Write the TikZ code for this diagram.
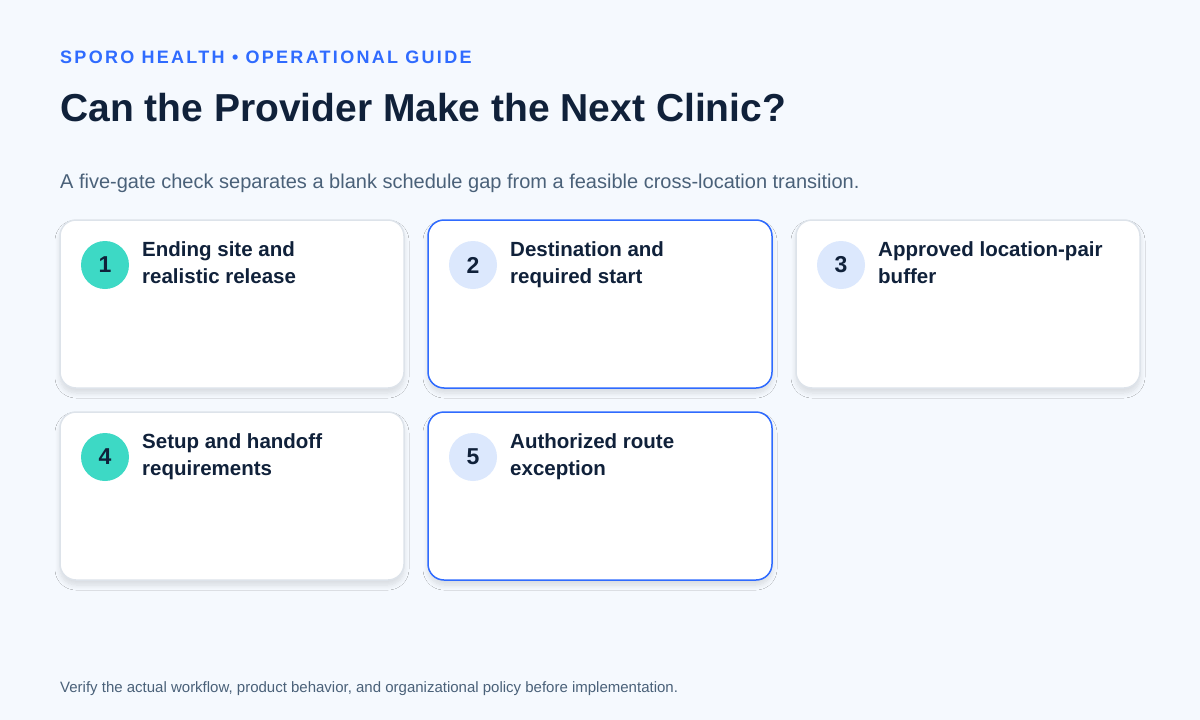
\documentclass[tikz,border=0pt]{standalone}
\usepackage{fontspec}
\setmainfont{Liberation Sans}
\newfontfamily\spaced[LetterSpace=12.7]{Liberation Sans}
\usetikzlibrary{shadows.blur}
\definecolor{bg}{HTML}{F5F9FE}
\definecolor{blue}{HTML}{2F6BFF}
\definecolor{ink}{HTML}{10213A}
\definecolor{muted}{HTML}{4A6179}
\definecolor{graybd}{HTML}{DDE3EA}
\definecolor{teal}{HTML}{3DD9C5}
\definecolor{lblue}{HTML}{DCE8FD}
\begin{document}
\begin{tikzpicture}[x=1pt,y=-1pt,
 card/.style={draw=graybd,line width=1.5pt,fill=white,rounded corners=16pt,blur shadow={shadow blur steps=10,shadow blur radius=5pt,shadow xshift=0pt,shadow yshift=-5pt,shadow opacity=12}},
 bcard/.style={card,draw=blue},
 num/.style={circle,minimum size=48pt,inner sep=0pt,font=\fontsize{23}{26}\selectfont\bfseries,text=ink},
 ttl/.style={anchor=north west,align=left,inner sep=0pt,font=\fontsize{20.5}{27}\selectfont\bfseries,text=ink}]
\fill[bg] (0,0) rectangle (1200,720);
\useasboundingbox (0,0) rectangle (1200,720);
\node[anchor=base west,inner sep=0pt,text=blue,font=\fontsize{18}{20}\selectfont\bfseries\spaced] (hdr) at (60,63) {SPORO HEALTH • OPERATIONAL GUIDE};
\node[anchor=base west,inner sep=0pt,text=ink,font=\fontsize{39}{44}\selectfont\bfseries] (title) at (60,121) {Can the Provider Make the Next Clinic?};
\node[anchor=base west,inner sep=0pt,text=muted,font=\fontsize{20}{24}\selectfont] (sub) at (60,188) {A five-gate check separates a blank schedule gap from a feasible cross-location transition.};
\node[anchor=base west,inner sep=0pt,text=muted,font=\fontsize{15}{18}\selectfont] (foot) at (60,692) {Verify the actual workflow, product behavior, and organizational policy before implementation.};
\foreach \x/\y/\st/\c/\n/\t in {
 60/220/card/teal/1/{Ending site and\\realistic release},
 428/220/bcard/lblue/2/{Destination and\\required start},
 796/220/card/lblue/3/{Approved location-pair\\buffer},
 60/412/card/teal/4/{Setup and handoff\\requirements},
 428/412/bcard/lblue/5/{Authorized route\\exception}}{
 \draw[\st] (\x,\y) rectangle ++(344,168);
 \node[num,fill=\c] (n\n) at (\x+45,\y+45) {\n};
 \node[ttl] (t\n) at (\x+82,\y+21) {\t};
}
\end{tikzpicture}
\end{document}
